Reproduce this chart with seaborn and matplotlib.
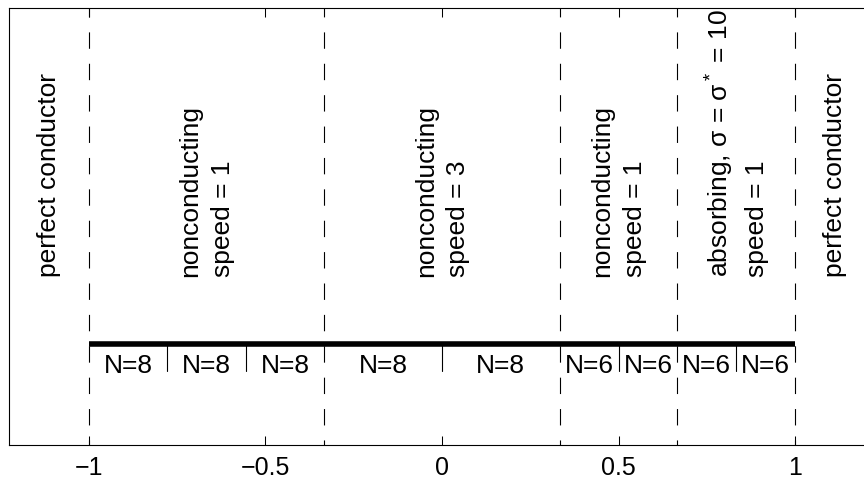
import numpy as np
import pandas as pd
import seaborn as sns
import matplotlib.pyplot as plt

# regions of the 1D domain
region_edges = [-1, -1/3, 1/3, 2/3, 1]
region_elems = [3, 2, 2, 2]
region_N = [8, 8, 6, 6]
region_labels = ['nonconducting\nspeed = 1',
                 'nonconducting\nspeed = 3',
                 'nonconducting\nspeed = 1',
                 'absorbing, σ = σ$^*$ = 10\nspeed = 1']
outer_label = 'perfect conductor'
xticks = [-1, -0.5, 0, 0.5, 1]

sns.set_style('white')
plt.rcParams['font.family'] = ['Liberation Sans', 'DejaVu Sans']
plt.rcParams['mathtext.fontset'] = 'custom'
plt.rcParams['mathtext.rm'] = 'Liberation Sans'
plt.rcParams['mathtext.it'] = 'Liberation Sans:italic'
plt.rcParams['lines.scale_dashes'] = False
plt.rcParams['text.color'] = 'black'
plt.rcParams['xtick.color'] = 'black'

fig = plt.figure(figsize=(8.64, 4.8), dpi=100)
ax = fig.add_axes([9/864, 35/480, 870/864, 437/480])
xmax = 1.2266
ax.set_xlim(-xmax, -xmax + 2 * xmax * 870 / 866)
ax.set_ylim(-0.3, 1)

# element boundaries
elem_edges = []
for a, b, n in zip(region_edges[:-1], region_edges[1:], region_elems):
    elem_edges.append(np.linspace(a, b, n + 1))
df = pd.DataFrame({'x': [-1, 1], 'y': [0, 0]})
sns.lineplot(data=df, x='x', y='y', color='black', linewidth=4, ax=ax,
             solid_capstyle='butt')

# dashed region boundaries
for x in region_edges:
    ax.plot([x, x], [1, -0.3], color='black', linewidth=0.8,
            linestyle=(5.4, (11.8, 10.8)))

# element separators and N labels
fs = 19
for edges, n in zip(elem_edges, region_N):
    for xe in edges[1:-1]:
        ax.plot([xe, xe], [0, -0.08], color='black', linewidth=0.8)
    for a, b in zip(edges[:-1], edges[1:]):
        ax.text((a + b) / 2, -0.065, f'N={n}', ha='center', va='center',
                fontsize=fs)

# region labels
for a, b, lab in zip(region_edges[:-1], region_edges[1:], region_labels):
    ax.text((a + b) / 2, 0.2, lab, rotation=90, ha='center', va='bottom',
            multialignment='left', fontsize=fs, linespacing=1.45)
for x in [-(1 + xmax) / 2, (1 + xmax) / 2]:
    ax.text(x, 0.2, outer_label, rotation=90, ha='center', va='bottom',
            fontsize=fs)

ax.set_xticks(xticks)
ax.set_xticklabels(['\u22121', '\u22120.5', '0', '0.5', '1'])
ax.set_yticks([])
ax.tick_params(axis='x', direction='in', top=True, bottom=True, length=6.5,
               width=0.75, labelsize=18, pad=8)
for s in ax.spines.values():
    s.set_visible(True)
    s.set_linewidth(0.8)
    s.set_color('black')
ax.set_xlabel('')
ax.set_ylabel('')

fig.savefig('out.png', dpi=100)
